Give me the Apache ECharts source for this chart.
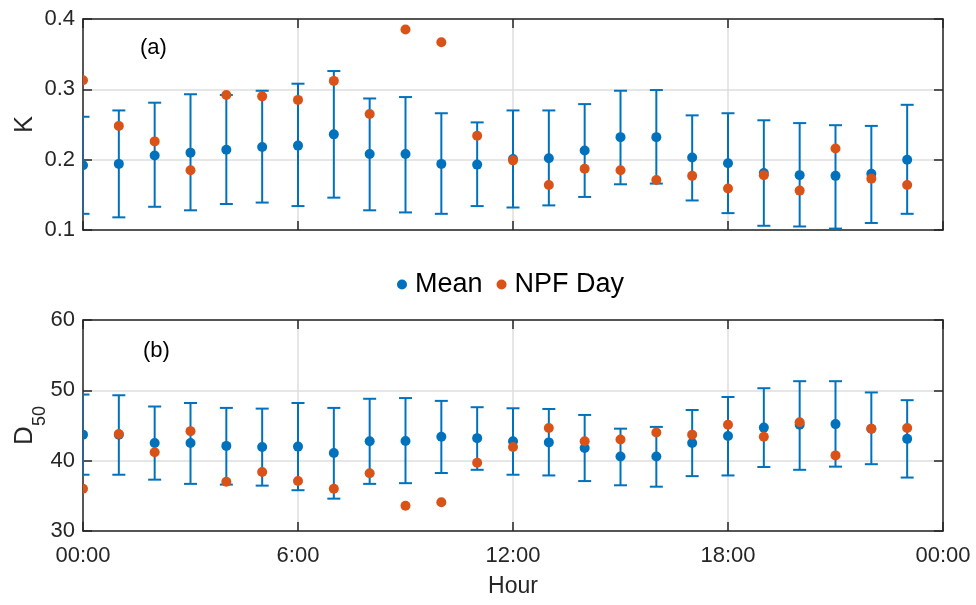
<!DOCTYPE html>
<html><head><meta charset="utf-8">
<script src="https://cdn.jsdelivr.net/npm/echarts@6/dist/echarts.min.js"></script>
<style>html,body{margin:0;padding:0;background:#fff}#c{width:976px;height:605px}</style>
</head><body><div id="c"></div>
<script>
const hours = [0,1,2,3,4,5,6,7,8,9,10,11,12,13,14,15,16,17,18,19,20,21,22,23];
const xTickLabels = ['00:00','6:00','12:00','18:00','00:00'];
const kMean = [0.192,0.194,0.206,0.210,0.214,0.218,0.220,0.236,0.208,0.208,0.194,0.193,0.201,0.202,0.213,0.232,0.232,0.203,0.195,0.181,0.178,0.177,0.180,0.200];
const kHigh = [0.261,0.270,0.281,0.293,0.292,0.298,0.308,0.326,0.287,0.289,0.266,0.253,0.270,0.270,0.279,0.298,0.299,0.263,0.266,0.256,0.252,0.249,0.248,0.278];
const kLow  = [0.123,0.118,0.133,0.128,0.137,0.139,0.134,0.146,0.128,0.125,0.123,0.134,0.132,0.135,0.147,0.165,0.166,0.142,0.124,0.106,0.105,0.102,0.110,0.123];
const kNpf  = [0.313,0.248,0.226,0.185,0.292,0.290,0.285,0.312,0.265,0.385,0.367,0.234,0.199,0.164,0.187,0.185,0.171,0.177,0.159,0.178,0.156,0.216,0.173,0.164];
const dMean = [43.7,43.7,42.5,42.5,42.1,41.95,42.0,41.1,42.75,42.8,43.4,43.2,42.75,42.6,41.8,40.6,40.6,42.5,43.5,44.7,45.1,45.2,44.55,43.1];
const dHigh = [49.4,49.3,47.7,48.2,47.5,47.4,48.2,47.5,48.8,48.9,48.5,47.6,47.45,47.35,46.5,44.55,44.8,47.2,49.05,50.3,51.3,51.3,49.7,48.6];
const dLow  = [38.0,38.0,37.3,36.7,36.6,36.45,35.8,34.6,36.7,36.8,38.25,38.7,38.0,37.9,37.1,36.5,36.3,37.8,37.9,39.1,38.7,39.15,39.5,37.6];
const dNpf  = [36.0,43.8,41.2,44.2,37.0,38.4,37.1,36.0,38.2,33.6,34.1,39.7,41.95,44.65,42.75,43.0,44.0,43.7,45.1,43.4,45.45,40.75,44.55,44.65];

const BLUE = '#0072BD', ORANGE = '#D95319';
const FONT = 'Liberation Sans';
const AX = '#262626';

const chart = echarts.init(document.getElementById('c'), null, {renderer:'canvas'});

function errRender(params, api){
  const x = api.value(0), lo = api.value(1), hi = api.value(2);
  const a = api.coord([x, lo]), b = api.coord([x, hi]);
  const w = 6.5;
  const st = {stroke: BLUE, lineWidth: 2, fill: null};
  return {type:'group', children:[
    {type:'line', shape:{x1:a[0], y1:a[1], x2:b[0], y2:b[1]}, style:st},
    {type:'line', shape:{x1:a[0]-w, y1:a[1], x2:a[0]+w, y2:a[1]}, style:st},
    {type:'line', shape:{x1:b[0]-w, y1:b[1], x2:b[0]+w, y2:b[1]}, style:st}
  ]};
}
function dotRender(color){
  return function(params, api){
    const p = api.coord([api.value(0), api.value(1)]);
    return {type:'circle', shape:{cx:p[0], cy:p[1], r:5}, style:{fill: color, stroke:null}};
  };
}
const zip3 = (a,b,c) => hours.map((h,i)=>[h,a[i],b[i]]);
const zip2 = (a) => hours.map((h,i)=>[h,a[i]]);

function xAx(grid, pos, labels){
  return {type:'value', gridIndex:grid, position:pos, min:0, max:24, interval:6,
    axisLine:{show:true, onZero:false, lineStyle:{color:AX, width:1.5}},
    axisTick:{show:true, inside:true, length:9, lineStyle:{color:AX, width:1.5}},
    axisLabel:{show:labels, margin:14, fontFamily:FONT, fontSize:22, color:AX,
      formatter: v => xTickLabels[Math.round(v/6)]},
    splitLine:{show: pos==='bottom', lineStyle:{color:'#dedede', width:1.5}},
    name: (labels ? 'Hour' : ''), nameLocation:'middle', nameGap:44,
    nameTextStyle:{fontFamily:FONT, fontSize:23, color:AX}
  };
}
function yAx(grid, pos, min, max, interval, labels, name, fmt, gap){
  return {type:'value', gridIndex:grid, position:pos, min:min, max:max, interval:interval,
    axisLine:{show:true, onZero:false, lineStyle:{color:AX, width:1.5}},
    axisTick:{show:true, inside:true, length:9, lineStyle:{color:AX, width:1.5}},
    axisLabel:{show:labels, margin:8, fontFamily:FONT, fontSize:22, color:AX, formatter:fmt},
    splitLine:{show: pos==='left', lineStyle:{color:'#dedede', width:1.5}},
    name: name, nameLocation:'middle', nameGap:gap || 40, nameRotate:90, nameMoveOverlap:false,
    nameTextStyle:{fontFamily:FONT, fontSize:25, color:AX,
      rich:{a:{fontFamily:FONT, fontSize:26, color:AX, verticalAlign:'bottom', lineHeight:30},
            b:{fontFamily:FONT, fontSize:18, color:AX, verticalAlign:'bottom', lineHeight:30, padding:[0,0,-11,0]}}}
  };
}

chart.setOption({
  animation:false,
  backgroundColor:'#fff',
  grid:[
    {left:83, top:19, width:860, height:211, containLabel:false, outerBoundsMode:'none'},
    {left:83, top:320, width:860, height:211, containLabel:false, outerBoundsMode:'none'}
  ],
  legend:{
    top:266, left:392, itemWidth:10, itemHeight:10, itemGap:14,
    textStyle:{fontFamily:FONT, fontSize:27, color:'#000', padding:[0,0,0,3]},
    data:[{name:'Mean', icon:'circle'}, {name:'NPF Day', icon:'circle'}]
  },
  xAxis:[ xAx(0,'bottom',false), xAx(1,'bottom',true), xAx(0,'top',false), xAx(1,'top',false) ],
  yAxis:[
    yAx(0,'left',0.1,0.4,0.1,true,'K', v=>v.toFixed(1), 45),
    yAx(1,'left',30,60,10,true,'{a|D}{b|50}', v=>String(v), 45),
    yAx(0,'right',0.1,0.4,0.1,false,''),
    yAx(1,'right',30,60,10,false,'')
  ],
  graphic:[
    {type:'text', left:140, top:37, style:{text:'(a)', font:'22px "Liberation Sans"', fill:'#000'}},
    {type:'text', left:143, top:340, style:{text:'(b)', font:'22px "Liberation Sans"', fill:'#000'}}
  ],
  series:[
    {type:'custom', name:'errK', xAxisIndex:0, yAxisIndex:0, clip:true, renderItem:errRender, data:zip3(kLow,kHigh), z:2},
    {type:'custom', name:'Mean', xAxisIndex:0, yAxisIndex:0, clip:true, renderItem:dotRender(BLUE), itemStyle:{color:BLUE}, data:zip2(kMean), z:3},
    {type:'custom', name:'NPF Day', xAxisIndex:0, yAxisIndex:0, clip:true, renderItem:dotRender(ORANGE), itemStyle:{color:ORANGE}, data:zip2(kNpf), z:4},
    {type:'custom', name:'errD', xAxisIndex:1, yAxisIndex:1, clip:true, renderItem:errRender, data:zip3(dLow,dHigh), z:2},
    {type:'custom', name:'Mean', xAxisIndex:1, yAxisIndex:1, clip:true, renderItem:dotRender(BLUE), itemStyle:{color:BLUE}, data:zip2(dMean), z:3},
    {type:'custom', name:'NPF Day', xAxisIndex:1, yAxisIndex:1, clip:true, renderItem:dotRender(ORANGE), itemStyle:{color:ORANGE}, data:zip2(dNpf), z:4}
  ]
});
</script></body></html>
